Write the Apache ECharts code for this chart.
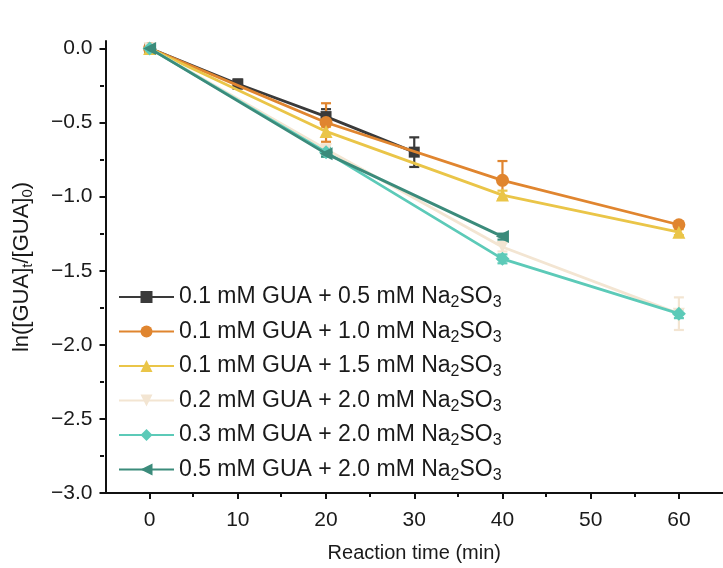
<!DOCTYPE html>
<html><head><meta charset="utf-8">
<script src="https://cdn.jsdelivr.net/npm/echarts@6/dist/echarts.min.js"></script>
<style>html,body{margin:0;padding:0;background:#fff}#c{width:723px;height:568px}</style>
</head><body><div id="c"></div>
<script>
// ---- data ----
const seriesNames = [
  '0.1 mM GUA + 0.5 mM Na2SO3',
  '0.1 mM GUA + 1.0 mM Na2SO3',
  '0.1 mM GUA + 1.5 mM Na2SO3',
  '0.2 mM GUA + 2.0 mM Na2SO3',
  '0.3 mM GUA + 2.0 mM Na2SO3',
  '0.5 mM GUA + 2.0 mM Na2SO3'
];
const time1 = [0, 10, 20, 30];
const vals1 = [0, -0.24, -0.46, -0.70];
const err1  = [0.02, 0.03, 0.05, 0.10];
const time2 = [0, 20, 40, 60];
const vals2 = [0, -0.50, -0.89, -1.19];
const err2  = [0.02, 0.13, 0.13, 0.02];
const time3 = [0, 20, 40, 60];
const vals3 = [0, -0.56, -0.99, -1.24];
const err3  = [0.02, 0.03, 0.03, 0.02];
const time4 = [0, 20, 40, 60];
const vals4 = [0, -0.68, -1.34, -1.79];
const err4  = [0.02, 0.03, 0.03, 0.11];
const time5 = [0, 20, 40, 60];
const vals5 = [0, -0.70, -1.42, -1.79];
const err5  = [0.02, 0.03, 0.03, 0.03];
const time6 = [0, 20, 40];
const vals6 = [0, -0.71, -1.27];
const err6  = [0.02, 0.02, 0.02];
const xMajorTicks = [0, 10, 20, 30, 40, 50, 60];
const xMinorTicks = [5, 15, 25, 35, 45, 55];
const yMajorTicks = [-3, -2.5, -2, -1.5, -1, -0.5, 0];
const yMinorTicks = [-2.75, -2.25, -1.75, -1.25, -0.75, -0.25];

const colors = ['#3a3a3a', '#e0852f', '#eac548', '#f3e5d2', '#5ccab8', '#3b8b7b'];
const symbols = ['rect', 'circle', 'triangle', 'path://M0,0 L10,0 L5,9 Z', 'diamond', 'path://M9,0 L9,10 L0,5 Z'];
const symbolSizes = [11, 13, 13, 12, 14, 13];

const times = [time1, time2, time3, time4, time5, time6];
const vals = [vals1, vals2, vals3, vals4, vals5, vals6];
const errs = [err1, err2, err3, err4, err5, err6];

const FONT = 'Liberation Sans, Arial, sans-serif';
const minus = v => (Math.abs(v) < 1e-9 ? '0.0' : v.toFixed(1).replace('-', '\u2212'));

const series = [];
for (let i = 0; i < 6; i++) {
  series.push({
    type: 'custom',
    name: 'err' + i,
    xAxisIndex: 0, yAxisIndex: 0,
    z: 1,
    data: times[i].map((t, j) => [t, vals[i][j], errs[i][j]]),
    renderItem: (params, api) => {
      const x = api.value(0), y = api.value(1), e = api.value(2);
      const top = api.coord([x, y + e]);
      const bot = api.coord([x, y - e]);
      const st = { stroke: colors[i], lineWidth: 2.2 };
      return {
        type: 'group',
        children: [
          { type: 'line', shape: { x1: top[0], y1: top[1], x2: bot[0], y2: bot[1] }, style: st },
          { type: 'line', shape: { x1: top[0] - 5, y1: top[1], x2: top[0] + 5, y2: top[1] }, style: st },
          { type: 'line', shape: { x1: bot[0] - 5, y1: bot[1], x2: bot[0] + 5, y2: bot[1] }, style: st }
        ]
      };
    }
  });
}
for (let i = 0; i < 6; i++) {
  series.push({
    type: 'line',
    name: seriesNames[i],
    z: 2 + i,
    xAxisIndex: 0, yAxisIndex: 0,
    data: times[i].map((t, j) => [t, vals[i][j]]),
    symbol: symbols[i],
    symbolSize: symbolSizes[i],
    showAllSymbol: true,
    lineStyle: { color: colors[i], width: 2.8 },
    itemStyle: { color: colors[i] },
    emphasis: { disabled: true },
    animation: false
  });
}

const fmtLegend = name => {
  const m = name.match(/^(.*)Na2SO3$/);
  return '{t|' + m[1] + 'Na}{s|2}{t|SO}{s|3}';
};

const G = { left: 104, top: 41, width: 629, height: 452, containLabel: false };
const chart = echarts.init(document.getElementById('c'), null, { renderer: 'canvas' });
chart.setOption({
  animation: false,
  backgroundColor: '#fff',
  textStyle: { fontFamily: FONT },
  grid: [Object.assign({}, G), Object.assign({}, G)],
  legend: {
    data: seriesNames,
    orient: 'vertical',
    left: 113, top: 278,
    itemWidth: 55, itemHeight: 15,
    itemGap: 6.5,
    formatter: fmtLegend,
    textStyle: {
      fontFamily: FONT,
      rich: {
        t: { fontSize: 23, color: '#1a1a1a', fontFamily: FONT, lineHeight: 24 },
        s: { fontSize: 16, color: '#1a1a1a', fontFamily: FONT, lineHeight: 24, padding: [12, 0, 0, 0] }
      }
    }
  },
  xAxis: [{
    gridIndex: 0, type: 'value', min: -5, max: 65,
    name: 'Reaction time (min)', nameLocation: 'middle', nameGap: 50,
    nameTextStyle: { fontSize: 20, color: '#1a1a1a', fontFamily: FONT },
    axisLine: { show: true, onZero: false, lineStyle: { color: '#111', width: 2 } },
    axisTick: { show: true, inside: false, length: 6, lineStyle: { color: '#111', width: 2 }, customValues: xMajorTicks },
    axisLabel: { fontSize: 21, color: '#1a1a1a', margin: 17, customValues: xMajorTicks, formatter: v => String(v) },
    splitLine: { show: false }
  }, {
    gridIndex: 1, type: 'value', min: -5, max: 65, position: 'bottom',
    axisLine: { show: false, onZero: false },
    axisTick: { show: true, inside: false, length: 4, lineStyle: { color: '#111', width: 2 }, customValues: xMinorTicks },
    axisLabel: { show: false },
    splitLine: { show: false }
  }],
  yAxis: [{
    gridIndex: 0, type: 'value', min: -3, max: 0.05,
    name: '{n|ln([GUA]}{s|t}{n|/[GUA]}{s|0}{n|)}', nameLocation: 'middle', nameGap: 72, nameRotate: 90,
    nameTextStyle: {
      rich: {
        n: { fontSize: 22, color: '#1a1a1a', fontFamily: FONT, lineHeight: 24 },
        s: { fontSize: 15, color: '#1a1a1a', fontFamily: FONT, lineHeight: 24, padding: [12, 0, 0, 0] }
      }
    },
    axisLine: { show: true, onZero: false, lineStyle: { color: '#111', width: 2 } },
    axisTick: { show: true, inside: false, length: 6, lineStyle: { color: '#111', width: 2 }, customValues: yMajorTicks },
    axisLabel: { fontSize: 21, color: '#1a1a1a', margin: 13, customValues: yMajorTicks, formatter: minus },
    splitLine: { show: false }
  }, {
    gridIndex: 1, type: 'value', min: -3, max: 0.05, position: 'left',
    axisLine: { show: false, onZero: false },
    axisTick: { show: true, inside: false, length: 4, lineStyle: { color: '#111', width: 2 }, customValues: yMinorTicks },
    axisLabel: { show: false },
    splitLine: { show: false }
  }],
  series: series
});
</script>
</body></html>
